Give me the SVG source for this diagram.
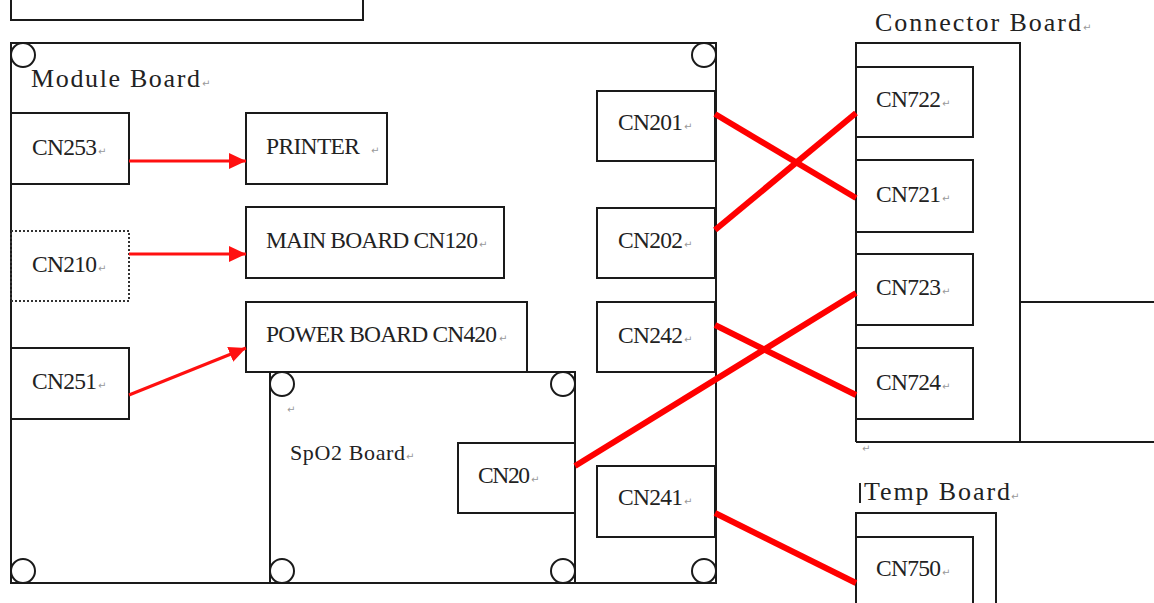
<svg xmlns="http://www.w3.org/2000/svg" width="1154" height="603" viewBox="0 0 1154 603">
<style>
.bx{fill:none;stroke:#1a1a1a;stroke-width:2}
.dot{fill:none;stroke:#333;stroke-width:2;stroke-dasharray:2 2}
.hole{fill:#fff;stroke:#1a1a1a;stroke-width:2}
.t{font-family:"Liberation Serif","Times New Roman",serif;font-size:23.5px;fill:#222}
.tl{font-family:"Liberation Serif","Times New Roman",serif;font-size:26px;fill:#222}
.ts{font-family:"Liberation Serif","Times New Roman",serif;font-size:22px;fill:#222}
.pm{font-family:"DejaVu Sans",sans-serif;font-size:10px;fill:#999}
.wire{stroke:#ff0000;stroke-width:6;fill:none}
.arr{stroke:#ff1010;stroke-width:3;fill:none}
</style>
<defs>
<marker id="ah" markerUnits="userSpaceOnUse" markerWidth="18" markerHeight="16" refX="17" refY="8" orient="auto">
<path d="M0,0 L17,8 L0,16 Z" fill="#ff1010"/>
</marker>
</defs>
<rect width="1154" height="603" fill="#fff"/>

<g id="top-box"><rect class="bx" x="11" y="-10" width="352" height="30"/></g>

<g id="module-board">
<rect class="bx" x="11" y="43" width="705" height="540"/>
<circle class="hole" cx="23" cy="55" r="12"/>
<circle class="hole" cx="704" cy="55" r="12"/>
<circle class="hole" cx="23" cy="571" r="12"/>
<circle class="hole" cx="704" cy="571" r="12"/>
<text class="tl" x="31" y="87" textLength="169" lengthAdjust="spacing">Module Board</text><text class="pm" x="202" y="87">↵</text>
</g>

<g id="cn253"><rect class="bx" x="11" y="113" width="118" height="71"/><text class="t" x="32" y="155" textLength="65" lengthAdjust="spacing">CN253</text><text class="pm" x="98" y="155">↵</text></g>
<g id="printer"><rect class="bx" x="246" y="113" width="141" height="71"/><text class="t" x="266" y="154" textLength="94" lengthAdjust="spacing">PRINTER</text><text class="pm" x="371" y="154">↵</text></g>
<g id="cn210"><rect class="dot" x="11" y="231" width="118" height="70"/><text class="t" x="32" y="272" textLength="65" lengthAdjust="spacing">CN210</text><text class="pm" x="98" y="272">↵</text></g>
<g id="main-board-cn120"><rect class="bx" x="246" y="207" width="258" height="71"/><text class="t" x="266" y="248" textLength="212" lengthAdjust="spacing">MAIN BOARD CN120</text><text class="pm" x="479" y="248">↵</text></g>
<g id="power-board-cn420"><rect class="bx" x="246" y="302" width="281" height="70"/><text class="t" x="266" y="342" textLength="231" lengthAdjust="spacing">POWER BOARD CN420</text><text class="pm" x="499" y="342">↵</text></g>
<g id="cn251"><rect class="bx" x="11" y="348" width="118" height="71"/><text class="t" x="32" y="389" textLength="65" lengthAdjust="spacing">CN251</text><text class="pm" x="98" y="389">↵</text></g>

<g id="spo2-board">
<rect class="bx" x="270" y="372" width="305" height="211"/>
<circle class="hole" cx="282" cy="384" r="12"/>
<circle class="hole" cx="563" cy="384" r="12"/>
<circle class="hole" cx="282" cy="571" r="12"/>
<circle class="hole" cx="563" cy="571" r="12"/>
<text class="pm" x="287" y="413">↵</text>
<text class="ts" x="290" y="460" textLength="115" lengthAdjust="spacing">SpO2 Board</text><text class="pm" x="406" y="460">↵</text>
</g>
<g id="cn20"><rect class="bx" x="458" y="443" width="117" height="70"/><text class="t" x="478" y="483" textLength="52" lengthAdjust="spacing">CN20</text><text class="pm" x="531" y="483">↵</text></g>

<g id="cn201"><rect class="bx" x="597" y="91" width="118" height="70"/><text class="t" x="618" y="130" textLength="65" lengthAdjust="spacing">CN201</text><text class="pm" x="684" y="130">↵</text></g>
<g id="cn202"><rect class="bx" x="597" y="208" width="118" height="70"/><text class="t" x="618" y="248" textLength="65" lengthAdjust="spacing">CN202</text><text class="pm" x="684" y="248">↵</text></g>
<g id="cn242"><rect class="bx" x="597" y="302" width="118" height="70"/><text class="t" x="618" y="343" textLength="65" lengthAdjust="spacing">CN242</text><text class="pm" x="684" y="343">↵</text></g>
<g id="cn241"><rect class="bx" x="597" y="466" width="118" height="71"/><text class="t" x="618" y="505" textLength="65" lengthAdjust="spacing">CN241</text><text class="pm" x="684" y="505">↵</text></g>

<g id="connector-board">
<path class="bx" d="M856,442 V43 H1020 V442 M856,442 H1160 M1020,302 H1160"/>
<text class="tl" x="875" y="31" textLength="206" lengthAdjust="spacing">Connector Board</text><text class="pm" x="1083" y="31">↵</text>
<text class="pm" x="862" y="452">↵</text>
</g>
<g id="cn722"><rect class="bx" x="856" y="67" width="117" height="70"/><text class="t" x="876" y="107" textLength="65" lengthAdjust="spacing">CN722</text><text class="pm" x="942" y="107">↵</text></g>
<g id="cn721"><rect class="bx" x="856" y="160" width="117" height="72"/><text class="t" x="876" y="202" textLength="65" lengthAdjust="spacing">CN721</text><text class="pm" x="942" y="202">↵</text></g>
<g id="cn723"><rect class="bx" x="856" y="254" width="117" height="71"/><text class="t" x="876" y="295" textLength="65" lengthAdjust="spacing">CN723</text><text class="pm" x="942" y="295">↵</text></g>
<g id="cn724"><rect class="bx" x="856" y="348" width="117" height="71"/><text class="t" x="876" y="390" textLength="65" lengthAdjust="spacing">CN724</text><text class="pm" x="942" y="390">↵</text></g>

<g id="temp-board">
<rect class="bx" x="856" y="513" width="140" height="110"/>
<line x1="860" y1="483" x2="860" y2="503" stroke="#222" stroke-width="2"/>
<text class="tl" x="864" y="500" textLength="146" lengthAdjust="spacing">Temp Board</text><text class="pm" x="1011" y="500">↵</text>
</g>
<g id="cn750"><rect class="bx" x="856" y="537" width="117" height="90"/><text class="t" x="876" y="576" textLength="65" lengthAdjust="spacing">CN750</text><text class="pm" x="942" y="576">↵</text></g>

<g id="connectors">
<line class="arr" x1="129" y1="161" x2="246" y2="161" marker-end="url(#ah)"/>
<line class="arr" x1="129" y1="254" x2="246" y2="254" marker-end="url(#ah)"/>
<line class="arr" x1="129" y1="395" x2="246" y2="348" marker-end="url(#ah)"/>
<line class="wire" x1="715" y1="114" x2="856" y2="198"/>
<line class="wire" x1="715" y1="230" x2="856" y2="113"/>
<line class="wire" x1="715" y1="325" x2="856" y2="395"/>
<line class="wire" x1="575" y1="466" x2="856" y2="293"/>
<line class="wire" x1="715" y1="513" x2="856" y2="583"/>
</g>
</svg>
